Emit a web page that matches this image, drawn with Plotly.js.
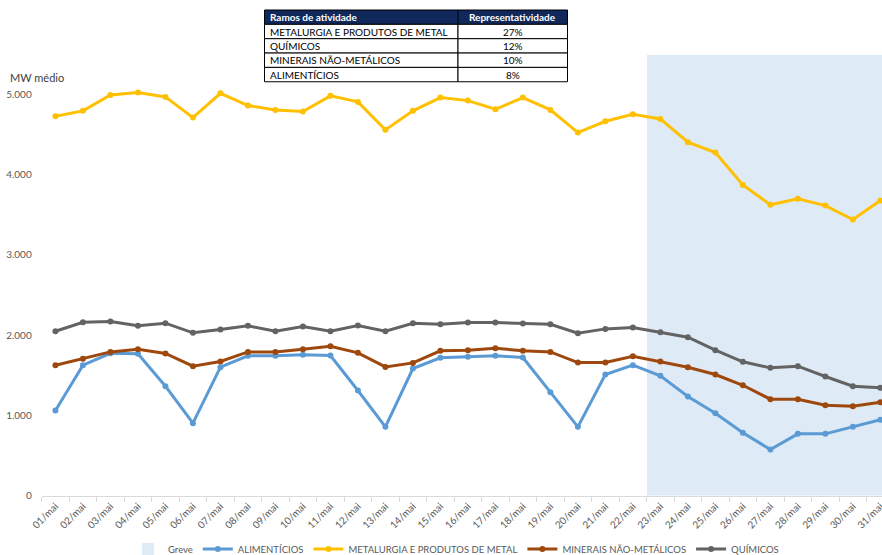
<!DOCTYPE html>
<html>
<head>
<meta charset="utf-8">
<script src="https://cdn.plot.ly/plotly-3.0.1.min.js"></script>
<style>html,body{margin:0;padding:0;background:#fff}#chart{width:882px;height:555px}</style>
</head>
<body>
<div id="chart"></div>
<script>
const dias = ["01/mai","02/mai","03/mai","04/mai","05/mai","06/mai","07/mai","08/mai","09/mai","10/mai","11/mai","12/mai","13/mai","14/mai","15/mai","16/mai","17/mai","18/mai","19/mai","20/mai","21/mai","22/mai","23/mai","24/mai","25/mai","26/mai","27/mai","28/mai","29/mai","30/mai","31/mai"];
const greve = [null,null,null,null,null,null,null,null,null,null,null,null,null,null,null,null,null,null,null,null,null,null,5500,5500,5500,5500,5500,5500,5500,5500,5500];
const alimenticios = [1060,1625,1774,1767,1363,902,1600,1742,1742,1754,1746,1309,856,1584,1717,1729,1742,1721,1288,856,1509,1625,1492,1234,1026,782,574,769,769,856,944];
const metalurgia = [4730,4797,4996,5025,4971,4713,5016,4863,4809,4788,4984,4909,4560,4797,4963,4925,4817,4963,4809,4526,4667,4754,4696,4406,4277,3874,3625,3700,3616,3441,3678];
const minerais = [1625,1704,1791,1824,1771,1613,1671,1791,1791,1824,1862,1779,1604,1654,1804,1812,1837,1804,1791,1658,1658,1737,1671,1600,1509,1375,1201,1201,1126,1113,1163];
const quimicos = [2049,2161,2170,2116,2149,2029,2070,2116,2049,2107,2049,2120,2049,2149,2136,2157,2157,2145,2136,2024,2078,2095,2037,1974,1812,1667,1592,1613,1484,1363,1343];
const tabelaCabecalho = ["Ramos de atividade","Representatividade"];
const tabelaRamos = ["METALURGIA E PRODUTOS DE METAL","QUÍMICOS","MINERAIS NÃO-METÁLICOS","ALIMENTÍCIOS"];
const tabelaPct = ["27%","12%","10%","8%"];

const W = 882, H = 555;
const FONT = "Lato, 'Open Sans', sans-serif";
const px = x => x / W;
const py = y => (H - y) / H;

function line(name, ys, color) {
  return {
    type: "scatter", mode: "lines+markers", name: name, x: dias, y: ys,
    line: {color: color, width: 3}, marker: {color: color, size: 6},
    cliponaxis: false, hoverinfo: "skip"
  };
}

const traces = [
  {type: "bar", name: "Greve", x: dias, y: greve, width: 1,
   marker: {color: "#DEEAF6", line: {width: 0}}, hoverinfo: "skip"},
  line("ALIMENTÍCIOS", alimenticios, "#5B9BD5"),
  line("METALURGIA E PRODUTOS DE METAL", metalurgia, "#FFC000"),
  line("MINERAIS NÃO-METÁLICOS", minerais, "#9E480E"),
  line("QUÍMICOS", quimicos, "#636363")
];

// Table drawn with shapes + annotations (paper pixel geometry)
const tL = 264.5, tM = 458, tR = 567.5, tTop = 10, rowH = 14.35;
const shapes = [];
const annotations = [];
const nRows = tabelaRamos.length + 1;
shapes.push({type: "rect", xref: "paper", yref: "paper", x0: px(tL), x1: px(tR),
  y0: py(tTop + rowH), y1: py(tTop), fillcolor: "#10295A", line: {color: "#000", width: 1}, layer: "above"});
for (let r = 1; r < nRows; r++) {
  const y0 = tTop + r * rowH, y1 = y0 + rowH;
  shapes.push({type: "rect", xref: "paper", yref: "paper", x0: px(tL), x1: px(tM),
    y0: py(y1), y1: py(y0), fillcolor: "#fff", line: {color: "#000", width: 1}, layer: "above"});
  shapes.push({type: "rect", xref: "paper", yref: "paper", x0: px(tM), x1: px(tR),
    y0: py(y1), y1: py(y0), fillcolor: "#fff", line: {color: "#000", width: 1}, layer: "above"});
}
shapes.push({type: "line", xref: "paper", yref: "paper", x0: px(tM), x1: px(tM),
  y0: py(tTop + rowH), y1: py(tTop), line: {color: "#000", width: 1}, layer: "above"});
annotations.push({text: "<b>" + tabelaCabecalho[0] + "</b>", xref: "paper", yref: "paper",
  x: px(tL + 3), y: py(tTop + rowH / 2), xanchor: "left", yanchor: "middle", showarrow: false,
  font: {family: FONT, size: 10, color: "#fff"}});
annotations.push({text: "<b>" + tabelaCabecalho[1] + "</b>", xref: "paper", yref: "paper",
  x: px((tM + tR) / 2), y: py(tTop + rowH / 2), xanchor: "center", yanchor: "middle", showarrow: false,
  font: {family: FONT, size: 10, color: "#fff"}});
tabelaRamos.forEach((t, i) => {
  const yc = tTop + (i + 1.5) * rowH;
  annotations.push({text: t, xref: "paper", yref: "paper", x: px(tL + 3), y: py(yc),
    xanchor: "left", yanchor: "middle", showarrow: false, font: {family: FONT, size: 10, color: "#000"}});
  annotations.push({text: tabelaPct[i], xref: "paper", yref: "paper", x: px((tM + tR) / 2), y: py(yc),
    xanchor: "center", yanchor: "middle", showarrow: false, font: {family: FONT, size: 10, color: "#000"}});
});
annotations.push({text: "MW médio", xref: "paper", yref: "paper", x: px(8), y: py(77),
  xanchor: "left", yanchor: "middle", showarrow: false,
  font: {family: FONT, size: 11, color: "#404040"}});

const layout = {
  width: W, height: H,
  margin: {l: 0, r: 0, t: 0, b: 0, autoexpand: false},
  paper_bgcolor: "#ffffff", plot_bgcolor: "rgba(0,0,0,0)",
  separators: ",.",
  bargap: 0,
  hovermode: false,
  font: {family: FONT, size: 10, color: "#595959"},
  xaxis: {
    type: "category", domain: [px(41.7), 1], range: [-0.5, 30.06],
    tickson: "boundaries", ticks: "outside", ticklen: 5, tickcolor: "#D9D9D9",
    showline: true, linecolor: "#D9D9D9", linewidth: 1, showgrid: false,
    tickangle: -45, tickfont: {family: FONT, size: 10, color: "#595959"}
  },
  yaxis: {
    domain: [py(495.5), py(54.5)], range: [0, 5500],
    tickvals: [0, 1000, 2000, 3000, 4000, 5000], tickformat: ",d",
    showline: false, showgrid: false, zeroline: false, ticks: "",
    ticklabelstandoff: 9,
    tickfont: {family: FONT, size: 10, color: "#595959"}
  },
  legend: {
    orientation: "h", x: px(456), xanchor: "center", y: py(549), yanchor: "middle",
    itemwidth: 30, tracegroupgap: 0,
    font: {family: FONT, size: 9.5, color: "#595959"}, bgcolor: "rgba(0,0,0,0)"
  },
  shapes: shapes,
  annotations: annotations
};

Plotly.newPlot("chart", traces, layout, {displayModeBar: false, staticPlot: true});
</script>
</body>
</html>
